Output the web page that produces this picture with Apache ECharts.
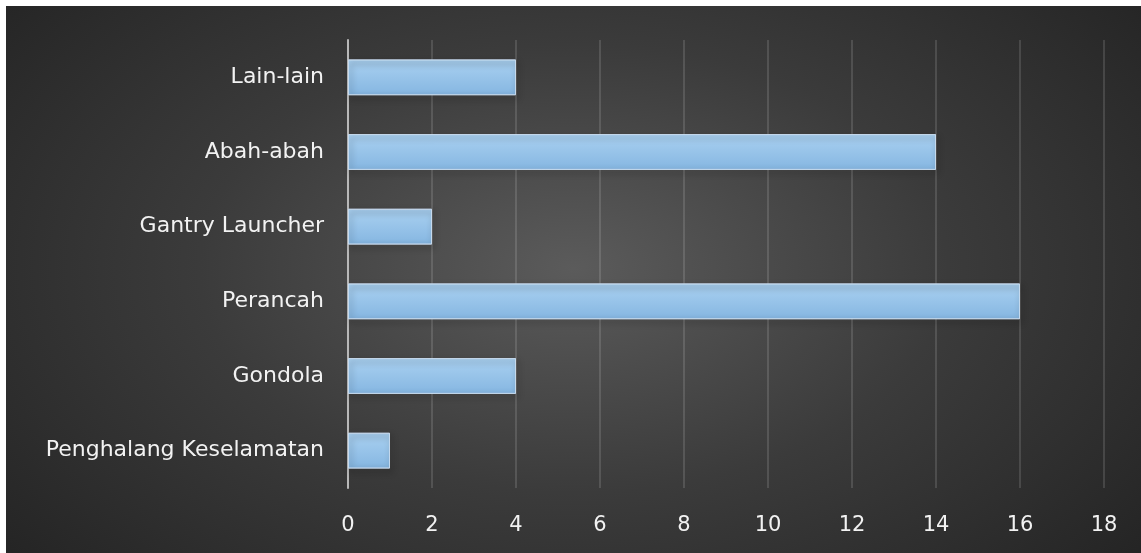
<!DOCTYPE html>
<html>
<head>
<meta charset="utf-8">
<script src="https://cdn.jsdelivr.net/npm/echarts@6/dist/echarts.min.js"></script>
<style>
  html, body { margin: 0; padding: 0; background: #ffffff; }
  #chart {
    position: absolute; left: 6px; top: 6px; width: 1135px; height: 547px;
    background: radial-gradient(ellipse 66% 82% at 50% 48%, #5b5b5b 0%, #3b3b3b 50%, #242424 100%);
  }
</style>
</head>
<body>
<div id="chart"></div>
<script>
  // kategori dari bawah ke atas (sumbu kategori ECharts mula dari bawah)
  var categories = ['Penghalang Keselamatan', 'Gondola', 'Perancah', 'Gantry Launcher', 'Abah-abah', 'Lain-lain'];
  var values = [1, 4, 16, 2, 14, 4];
  var axisMin = 0;
  var axisMax = 18;
  var axisStep = 2;

  var chart = echarts.init(document.getElementById('chart'));

  chart.setOption({
    backgroundColor: 'transparent',
    grid: {
      left: 342,
      right: 37,
      top: 34,
      bottom: 65
    },
    xAxis: {
      type: 'value',
      min: axisMin,
      max: axisMax,
      interval: axisStep,
      axisLine: { show: false },
      axisTick: { show: false },
      axisLabel: {
        color: '#f2f2f2',
        fontFamily: 'DejaVu Sans',
        fontSize: 21,
        margin: 27
      },
      splitLine: {
        lineStyle: { color: 'rgba(255,255,255,0.13)', width: 2 }
      }
    },
    yAxis: {
      type: 'category',
      data: categories,
      axisLine: { show: true, lineStyle: { color: '#b8b8b8', width: 2 } },
      axisTick: { show: false },
      axisLabel: {
        color: '#f2f2f2',
        fontFamily: 'DejaVu Sans',
        fontSize: 22,
        margin: 24
      }
    },
    series: [{
      type: 'bar',
      data: values,
      barWidth: '48%',
      itemStyle: {
        color: {
          type: 'linear',
          x: 0, y: 0, x2: 0, y2: 1,
          colorStops: [
            { offset: 0, color: '#aad1f1' },
            { offset: 1, color: '#85b6e1' }
          ]
        },
        borderColor: 'rgba(200,220,240,0.8)',
        borderWidth: 1,
        shadowColor: 'rgba(0,0,0,0.6)',
        shadowBlur: 6,
        shadowOffsetX: 2,
        shadowOffsetY: 3
      },
      z: 3
    }]
  });
</script>
</body>
</html>
